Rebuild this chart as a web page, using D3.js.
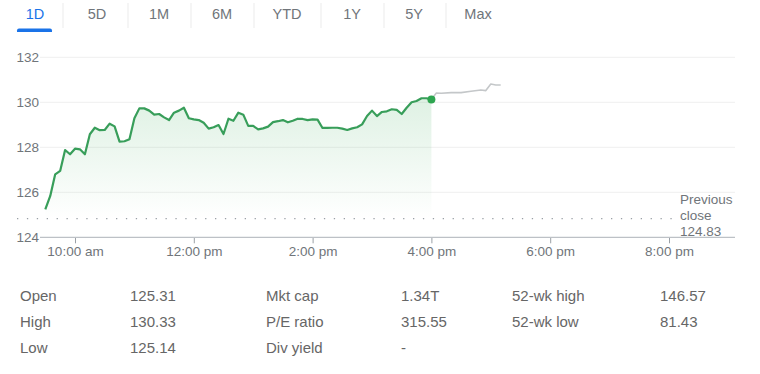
<!DOCTYPE html>
<html><head><meta charset="utf-8">
<script src="https://cdn.jsdelivr.net/npm/d3@7"></script>
<style>
html,body{margin:0;padding:0;background:#fff;}
svg{display:block;font-family:"Liberation Sans",Arial,sans-serif;}
</style></head>
<body>
<svg id="c" width="760" height="374"></svg>
<script>
// ---- data ----
const tabs = ["1D","5D","1M","6M","YTD","1Y","5Y","Max"];
const times = ["9:30","9:35","9:40","9:45","9:50","9:55","10:00","10:05","10:10","10:15","10:20","10:25","10:30","10:35","10:40","10:45","10:50","10:55",
"11:00","11:05","11:10","11:15","11:20","11:25","11:30","11:35","11:40","11:45","11:50","11:55",
"12:00","12:05","12:10","12:15","12:20","12:25","12:30","12:35","12:40","12:45","12:50","12:55",
"13:00","13:05","13:10","13:15","13:20","13:25","13:30","13:35","13:40","13:45","13:50","13:55",
"14:00","14:05","14:10","14:15","14:20","14:25","14:30","14:35","14:40","14:45","14:50","14:55",
"15:00","15:05","15:10","15:15","15:20","15:25","15:30","15:35","15:40","15:45","15:50","15:55","16:00"];
const prices = [125.24,125.84,126.80,126.95,127.88,127.69,127.94,127.91,127.69,128.58,128.87,128.76,128.77,129.05,128.93,128.25,128.27,128.36,
129.29,129.73,129.73,129.63,129.45,129.48,129.33,129.21,129.54,129.63,129.76,129.29,
129.24,129.21,129.09,128.83,128.89,128.99,128.59,129.27,129.18,129.54,129.45,128.95,
128.95,128.80,128.84,128.92,129.12,129.16,129.21,129.11,129.18,129.27,129.26,129.21,
129.24,129.23,128.86,128.86,128.87,128.87,128.83,128.77,128.84,128.89,129.02,129.39,
129.63,129.39,129.57,129.60,129.69,129.66,129.48,129.76,130.00,130.06,130.18,130.18,130.13];
const ahTimes = ["16:00","16:05","16:10","16:20","16:30","16:40","16:50","16:55","17:00","17:05","17:10"];
const ahPrices = [130.13,130.41,130.40,130.43,130.43,130.49,130.55,130.52,130.81,130.77,130.77];
const yTicks = [124,126,128,130,132];
const xTicks = ["10:00","12:00","14:00","16:00","18:00","20:00"];
const xTickLabels = ["10:00 am","12:00 pm","2:00 pm","4:00 pm","6:00 pm","8:00 pm"];
const prevClose = 124.83;
const statLabels1 = ["Open","High","Low"];
const statValues1 = ["125.31","130.33","125.14"];
const statLabels2 = ["Mkt cap","P/E ratio","Div yield"];
const statValues2 = ["1.34T","315.55","-"];
const statLabels3 = ["52-wk high","52-wk low"];
const statValues3 = ["146.57","81.43"];

// ---- helpers ----
const toMin = s => { const [h,m] = s.split(":").map(Number); return h*60+m; };
const svg = d3.select("#c");
const grey = "#70757a";

// ---- tabs ----
const tabX = [35,97,159,222,287,352,414,478];
const sepX = [63,128,191,254,321,384,446];
const tabG = svg.append("g");
tabG.selectAll("text").data(tabs).join("text")
  .attr("x",(d,i)=>tabX[i]).attr("y",19)
  .attr("text-anchor","middle").attr("font-size",14.5)
  .attr("fill",(d,i)=> i===0 ? "#1a73e8" : grey).text(d=>d);
tabG.selectAll("line").data(sepX).join("line")
  .attr("x1",d=>d).attr("x2",d=>d).attr("y1",3).attr("y2",28)
  .attr("stroke","#ebebeb").attr("stroke-width",1);
tabG.append("path").attr("d","M17,32 L17,30.5 Q17,28.5 19,28.5 L50,28.5 Q52,28.5 52,30.5 L52,32 Z").attr("fill","#1a73e8");

// ---- scales ----
const x = d3.scaleLinear().domain([toMin("10:00"), toMin("20:00")]).range([75, 669]);
const y = d3.scaleLinear().domain([124,132]).range([237.3, 57.3]);
const gridL = 40, gridR = 735;

// gridlines
svg.append("g").selectAll("line").data(yTicks.filter(v=>v!==124)).join("line")
  .attr("x1",gridL).attr("x2",gridR).attr("y1",d=>y(d)).attr("y2",d=>y(d))
  .attr("stroke","#efefef").attr("stroke-width",1);

// y labels
svg.append("g").selectAll("text").data(yTicks).join("text")
  .attr("x",39).attr("y",d=>y(d)).attr("dy","0.36em")
  .attr("text-anchor","end").attr("font-size",13.5).attr("fill",grey).text(d=>d);

// x axis
const xAxis = d3.axisBottom(x).tickValues(xTicks.map(toMin))
  .tickFormat((d,i)=>xTickLabels[i]).tickSize(6).tickPadding(3);
const ax = svg.append("g").attr("transform",`translate(0,${y(124)})`).call(xAxis);
ax.select(".domain").remove();
ax.selectAll(".tick line").attr("stroke","#9aa0a6");
ax.selectAll(".tick text").attr("font-size",13.5).attr("fill",grey)
  .attr("font-family","Liberation Sans, Arial, sans-serif");
svg.append("line").attr("x1",gridL).attr("x2",gridR).attr("y1",y(124)).attr("y2",y(124))
  .attr("stroke","#bdc1c6").attr("stroke-width",1.3);

// previous close dotted
svg.append("line").attr("x1",17).attr("x2",674).attr("y1",y(prevClose)).attr("y2",y(prevClose))
  .attr("stroke","#9aa0a6").attr("stroke-width",1.3).attr("stroke-dasharray","1.3,8.6");
const pc = svg.append("text").attr("x",680).attr("font-size",13.5).attr("fill",grey);
["Previous","close",String(prevClose)].forEach((t,i)=>{
  svg.append("text").attr("x",680).attr("y",204+i*16).attr("font-size",13.5).attr("fill",grey).text(t);
});

// gradient
const defs = svg.append("defs");
const gr = defs.append("linearGradient").attr("id","g1").attr("gradientUnits","userSpaceOnUse")
  .attr("x1",0).attr("x2",0).attr("y1",y(130.2)).attr("y2",y(prevClose));
gr.append("stop").attr("offset",0).attr("stop-color","#34a853").attr("stop-opacity",0.16);
gr.append("stop").attr("offset",1).attr("stop-color","#34a853").attr("stop-opacity",0.0);

const data = times.map((t,i)=>({t:toMin(t), v:prices[i]}));
const ah = ahTimes.map((t,i)=>({t:toMin(t), v:ahPrices[i]}));

svg.append("path").datum(data)
  .attr("d", d3.area().x(d=>x(d.t)).y0(y(prevClose)).y1(d=>y(d.v)))
  .attr("fill","url(#g1)");

svg.append("path").datum(ah)
  .attr("d", d3.line().x(d=>x(d.t)).y(d=>y(d.v)))
  .attr("fill","none").attr("stroke","#c4c7c9").attr("stroke-width",1.6).attr("stroke-linejoin","round");

svg.append("path").datum(data)
  .attr("d", d3.line().x(d=>x(d.t)).y(d=>y(d.v)))
  .attr("fill","none").attr("stroke","#389e5a").attr("stroke-width",2.2).attr("stroke-linejoin","round");

const last = data[data.length-1];
svg.append("circle").attr("cx",x(last.t)).attr("cy",y(last.v)).attr("r",4).attr("fill","#2ea550");

// ---- stats table ----
const rowY = [301,327,353];
const cols = [[statLabels1,20],[statValues1,130],[statLabels2,266],[statValues2,401],[statLabels3,512],[statValues3,660]];
cols.forEach(([arr,cx])=>{
  svg.append("g").selectAll("text").data(arr).join("text")
    .attr("x",cx).attr("y",(d,i)=>rowY[i]).attr("font-size",15).attr("fill","#666").text(d=>d);
});
</script>
</body></html>
